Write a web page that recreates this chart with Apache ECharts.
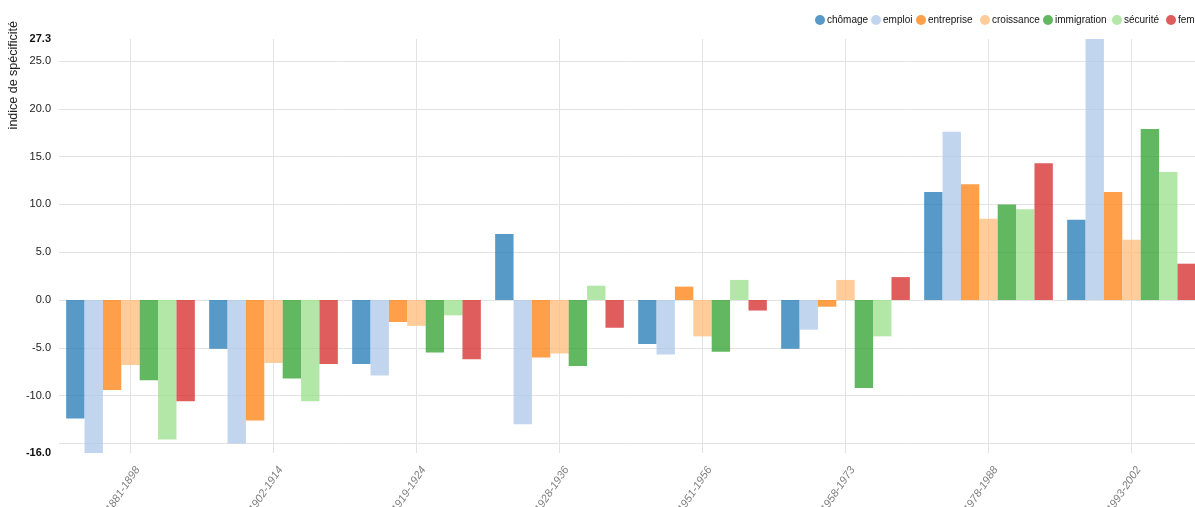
<!DOCTYPE html>
<html>
<head>
<meta charset="utf-8">
<script src="https://cdn.jsdelivr.net/npm/echarts@6/dist/echarts.min.js"></script>
<style>
html, body { margin: 0; padding: 0; background: #fff; }
#chart { width: 1195px; height: 507px; }
</style>
</head>
<body>
<div id="chart"></div>
<script>
var periods = ['1881-1898', '1902-1914', '1919-1924', '1928-1936', '1951-1956', '1958-1973', '1978-1988', '1993-2002'];

var chomage     = [-12.4, -5.1, -6.7, 6.9, -4.6, -5.1, 11.3, 8.4];
var emploi      = [-16.0, -15.0, -7.9, -13.0, -5.7, -3.1, 17.6, 27.3];
var entreprise  = [-9.4, -12.6, -2.3, -6.0, 1.4, -0.7, 12.1, 11.3];
var croissance  = [-6.8, -6.6, -2.7, -5.6, -3.8, 2.1, 8.5, 6.3];
var immigration = [-8.4, -8.2, -5.5, -6.9, -5.4, -9.2, 10.0, 17.9];
var securite    = [-14.6, -10.6, -1.6, 1.5, 2.1, -3.8, 9.5, 13.4];
var femme       = [-10.6, -6.7, -6.2, -2.9, -1.1, 2.4, 14.3, 3.8];

var seriesNames = ['chômage', 'emploi', 'entreprise', 'croissance', 'immigration', 'sécurité', 'femme'];
var yLabels = [-16, -10, -5, 0, 5, 10, 15, 20, 25, 27.3];
var yGrid = [-15, -10, -5, 0, 5, 10, 15, 20, 25];

var font = "'Liberation Sans', Arial, sans-serif";
var colors = ['#1f77b4', '#aec7e8', '#ff7f0e', '#ffbb78', '#2ca02c', '#98df8a', '#d62728'];
// left edge of each legend marker
var legendLeft = [810, 866, 911, 975, 1038, 1107, 1161];

var chart = echarts.init(document.getElementById('chart'));

function bar(name, data) {
    return {
        name: name,
        type: 'bar',
        data: data,
        barGap: 0,
        barCategoryGap: '10%',
        itemStyle: { opacity: 0.75 },
        emphasis: { disabled: true }
    };
}

var legends = seriesNames.map(function (n, i) {
    return {
        left: legendLeft[i],
        top: 10,
        icon: 'circle',
        itemWidth: 10,
        itemHeight: 10,
        textStyle: { fontSize: 10, color: '#111', fontFamily: font, padding: [0, 0, 0, -3] },
        data: [n]
    };
});

var option = {
    animation: false,
    color: colors,
    textStyle: { fontFamily: font },
    legend: legends,
    graphic: [{
        type: 'text',
        x: 14,
        y: 21,
        rotation: Math.PI / 2,
        style: {
            text: 'indice de spécificité',
            font: '12.5px ' + font,
            fill: '#222',
            align: 'right',
            verticalAlign: 'middle'
        }
    }],
    grid: { left: 59, top: 39, bottom: 54, width: 1144, containLabel: false, outerBoundsMode: 'none' },
    xAxis: {
        type: 'category',
        data: periods,
        axisLine: { show: false },
        axisTick: { show: false, alignWithLabel: true },
        splitLine: { show: true, alignWithLabel: true, lineStyle: { color: '#e3e3e3', width: 1 } },
        axisLabel: {
            rotate: 56,
            margin: 10,
            fontSize: 11,
            fontStyle: 'italic',
            color: '#808080',
            fontFamily: font,
            verticalAlign: 'top',
            padding: [3, 0, 0, 0]
        }
    },
    yAxis: {
        type: 'value',
        min: -16,
        max: 27.3,
        axisLine: { show: false },
        axisTick: { show: false, customValues: yGrid },
        splitLine: { show: true, lineStyle: { color: '#e3e3e3', width: 1 } },
        axisLabel: {
            customValues: yLabels,
            margin: 8,
            fontSize: 11,
            color: '#222',
            fontFamily: font,
            formatter: function (v) {
                var s = Number(v).toFixed(1);
                if (v === -16 || v === 27.3) return '{b|' + s + '}';
                return s;
            },
            rich: { b: { fontWeight: 'bold', fontSize: 11, color: '#111', fontFamily: font } }
        }
    },
    series: [
        bar(seriesNames[0], chomage),
        bar(seriesNames[1], emploi),
        bar(seriesNames[2], entreprise),
        bar(seriesNames[3], croissance),
        bar(seriesNames[4], immigration),
        bar(seriesNames[5], securite),
        bar(seriesNames[6], femme)
    ]
};

chart.setOption(option);
</script>
</body>
</html>
